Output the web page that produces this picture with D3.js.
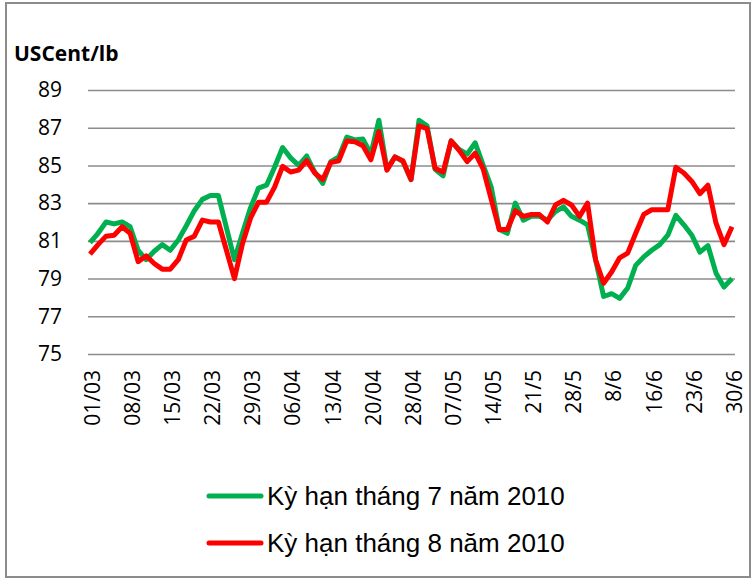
<!DOCTYPE html>
<meta charset="utf-8">
<head>
<style>
body {
  margin: 0;
  background-color: white;
}
.axis text {
  font-family: 'Open Sans', sans-serif;
  font-size: 21px;
  fill: #000;
}
.legend text {
  font-family: 'Liberation Sans', Arial, sans-serif;
  font-size: 26px;
  fill: #000;
}
</style>
<script src="https://d3js.org/d3.v7.min.js"></script>
</head>
<body>
<svg id="chart"></svg>
<script>

var width = 754
var height = 580

// tick labels on the category axis, one every 5 trading days
var tickLabels = ['01/03', '08/03', '15/03', '22/03', '29/03', '06/04', '13/04', '20/04',
  '28/04', '07/05', '14/05', '21/5', '28/5', '8/6', '16/6', '23/6', '30/6']

var yTicks = [75, 77, 79, 81, 83, 85, 87, 89]

var seriesNames = ['Kỳ hạn tháng 7 năm 2010', 'Kỳ hạn tháng 8 năm 2010']

var july = [80.9, 81.4, 82.0, 81.9, 82.0, 81.75, 80.5, 80.0, 80.45, 80.8,
  80.5, 81.05, 81.8, 82.6, 83.2, 83.4, 83.4, 81.7, 80.0, 81.4,
  82.75, 83.8, 83.95, 84.9, 85.95, 85.4, 85.0, 85.5, 84.65, 84.05,
  85.2, 85.45, 86.5, 86.35, 86.4, 85.6, 87.4, 84.8, 85.45, 85.2,
  84.25, 87.4, 87.1, 84.8, 84.45, 86.3, 85.85, 85.6, 86.2, 85.0,
  83.85, 81.6, 81.4, 83.0, 82.1, 82.3, 82.3, 82.1, 82.55, 82.8,
  82.3, 82.1, 81.85, 80.0, 78.05, 78.2, 77.95, 78.5, 79.7, 80.15,
  80.5, 80.8, 81.3, 82.35, 81.85, 81.3, 80.4, 80.75, 79.3, 78.55,
  79.0]

var august = [80.3, 80.8, 81.25, 81.3, 81.75, 81.4, 79.9, 80.2, 79.8, 79.5,
  79.5, 80.0, 81.05, 81.25, 82.1, 82.0, 82.0, 80.5, 79.0, 80.85,
  82.2, 83.05, 83.05, 83.85, 84.95, 84.65, 84.75, 85.25, 84.6, 84.25,
  85.15, 85.25, 86.3, 86.25, 86.05, 85.3, 86.8, 84.75, 85.45, 85.25,
  84.25, 87.1, 86.95, 84.85, 84.65, 86.3, 85.8, 85.2, 85.65, 84.8,
  83.2, 81.6, 81.6, 82.6, 82.3, 82.4, 82.4, 82.0, 82.9, 83.15,
  82.9, 82.3, 83.0, 80.0, 78.75, 79.35, 80.1, 80.35, 81.4, 82.4,
  82.65, 82.65, 82.65, 84.9, 84.6, 84.15, 83.5, 83.95, 81.95, 80.8,
  81.75]

var colors = ['#00B050', '#FF0000']

var svg = d3.select('#chart')
  .attr('width', width)
  .attr('height', height)

// outer frame
svg.append('rect')
  .attr('x', 6)
  .attr('y', 3)
  .attr('width', 744)
  .attr('height', 574)
  .attr('fill', 'white')
  .attr('stroke', '#8c8c8c')
  .attr('stroke-width', 2)

var plot = {left: 88, right: 735, top: 90, bottom: 354}

var x = d3.scaleLinear()
  .domain([0, july.length - 1])
  .range([90, 732])

var y = d3.scaleLinear()
  .domain([75, 89])
  .range([plot.bottom, plot.top])

// y axis with gridlines
var yAxis = svg.append('g')
  .attr('class', 'axis')
  .attr('transform', 'translate(' + plot.left + ',0)')
  .call(d3.axisLeft(y)
    .tickValues(yTicks)
    .tickSize(-(plot.right - plot.left))
    .tickPadding(26))

yAxis.select('.domain').remove()
yAxis.selectAll('.tick line')
  .attr('stroke', '#8c8c8c')
  .attr('stroke-width', 1.6)

// category axis, rotated labels
var xAxis = svg.append('g')
  .attr('class', 'axis')
  .attr('transform', 'translate(0,' + plot.bottom + ')')
  .call(d3.axisBottom(x)
    .tickValues(d3.range(0, july.length, 5))
    .tickSize(0)
    .tickFormat(function (d) { return tickLabels[d / 5] }))

xAxis.select('.domain').remove()
xAxis.selectAll('.tick text')
  .attr('transform', 'rotate(-90)')
  .attr('text-anchor', 'end')
  .attr('x', -16)
  .attr('y', 2)
  .attr('dy', '0.35em')

svg.append('text')
  .attr('x', 14)
  .attr('y', 61)
  .style('font-family', "'Open Sans', sans-serif")
  .style('font-weight', 'bold')
  .style('font-size', '21px')
  .text('USCent/lb')

var line = d3.line()
  .x(function (d, i) { return x(i) })
  .y(function (d) { return y(d) })

var series = [july, august]

series.forEach(function (s, k) {
  svg.append('path')
    .datum(s)
    .attr('d', line)
    .attr('fill', 'none')
    .attr('stroke', colors[k])
    .attr('stroke-width', 5)
    .attr('stroke-linejoin', 'round')
})

// legend
var legend = svg.append('g')
  .attr('class', 'legend')

seriesNames.forEach(function (name, k) {
  var ly = 496 + k * 47
  legend.append('line')
    .attr('x1', 209)
    .attr('x2', 261)
    .attr('y1', ly)
    .attr('y2', ly)
    .attr('stroke', colors[k])
    .attr('stroke-width', 5)
    .attr('stroke-linecap', 'round')
  legend.append('text')
    .attr('x', 267)
    .attr('y', ly)
    .attr('dy', '0.35em')
    .text(name)
})

</script>
</body>
